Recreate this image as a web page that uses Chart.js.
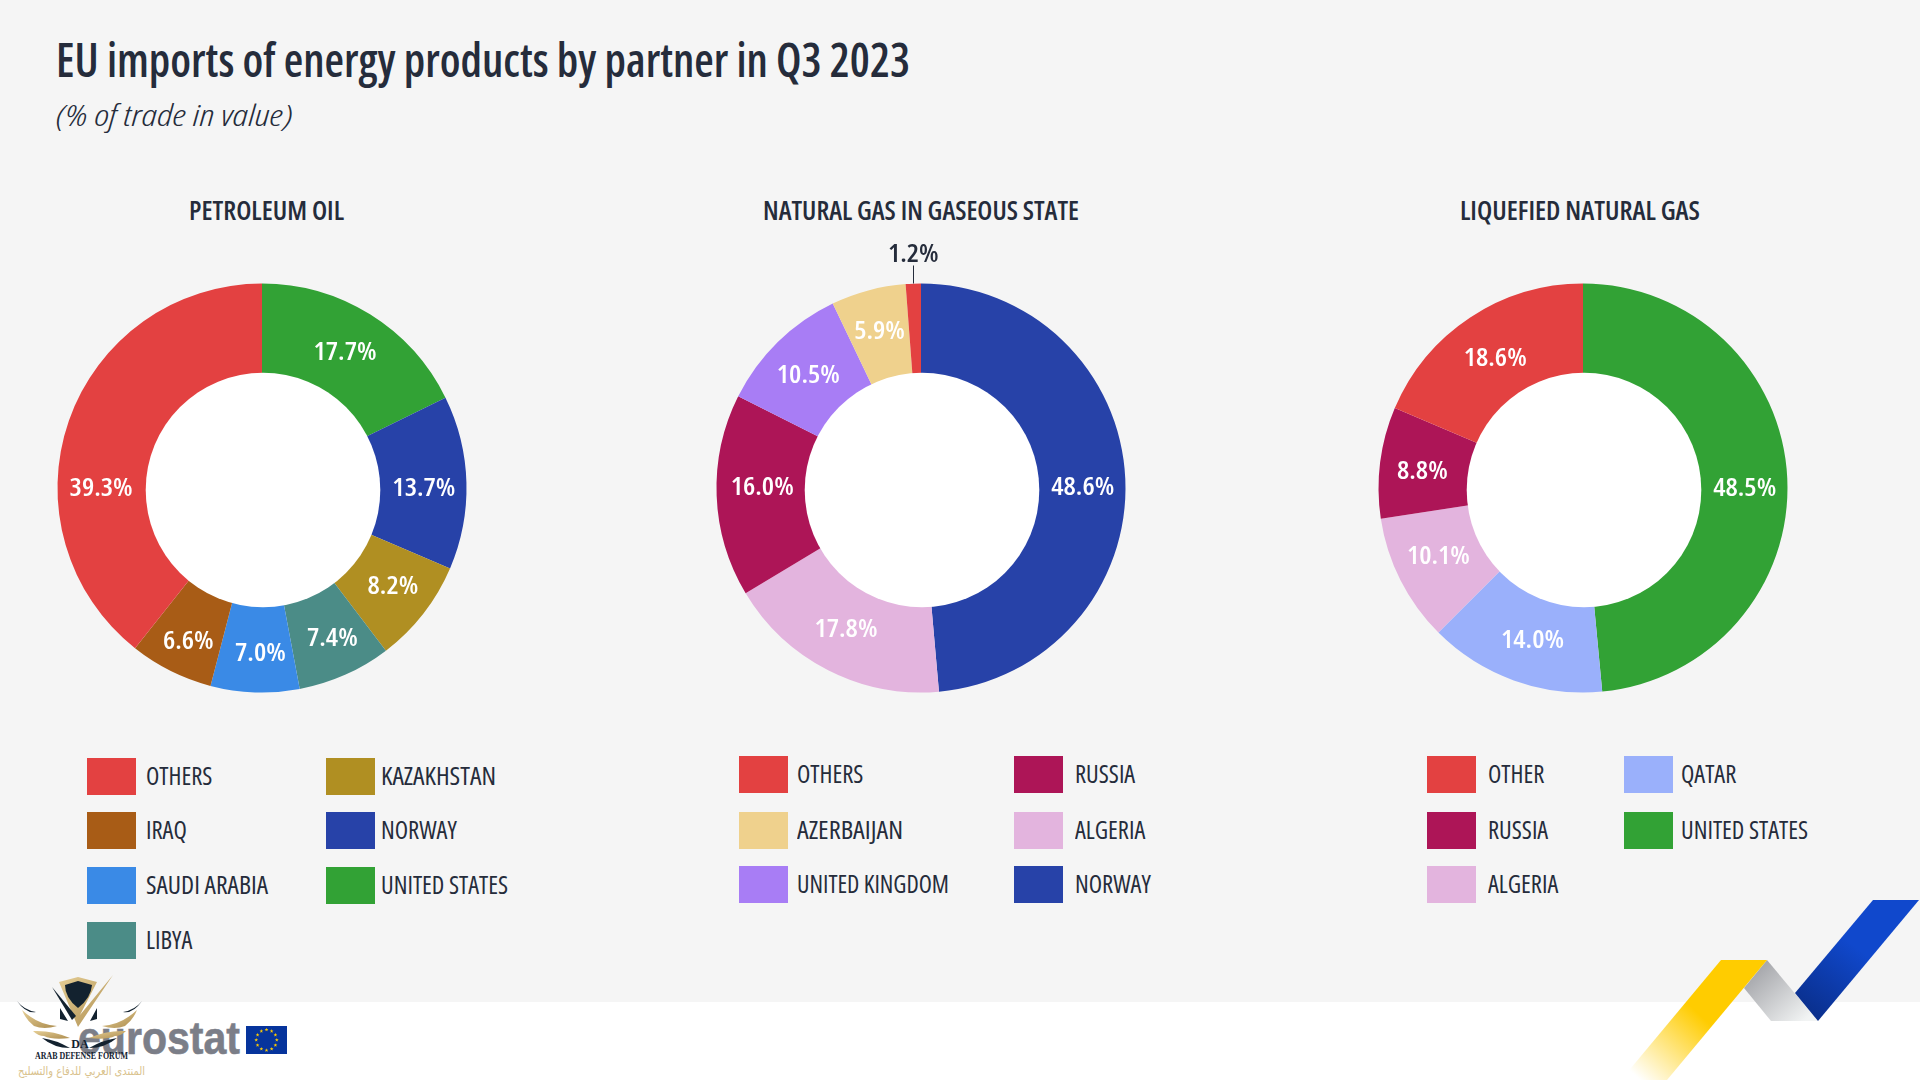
<!DOCTYPE html>
<html><head><meta charset="utf-8">
<script src="https://cdn.jsdelivr.net/npm/chart.js@4/dist/chart.umd.min.js"></script>
<style>
html,body{margin:0;padding:0;background:#fff}
#page{position:relative;width:1920px;height:1080px;overflow:hidden;background:#fff;font-family:"Open Sans","Liberation Sans",sans-serif;font-stretch:75%;color:#252c3b}
#band{position:absolute;left:0;top:0;width:1920px;height:1002px;background:#f5f5f5}
#page canvas{position:absolute}
.t{position:absolute;white-space:nowrap;transform-origin:0 50%;line-height:1}
.sw{position:absolute;width:49px;height:37px}
svg{position:absolute;left:0;top:0}
</style></head><body><div id="page"><div id="band"></div>
<svg width="1920" height="1080" viewBox="0 0 1920 1080">
<defs>
<linearGradient id="gy" gradientUnits="userSpaceOnUse" x1="1700" y1="1015" x2="1640" y2="1080"><stop offset="0" stop-color="#ffcc00"/><stop offset="1" stop-color="#ffffff"/></linearGradient>
<linearGradient id="gg" gradientUnits="userSpaceOnUse" x1="1745" y1="965" x2="1800" y2="1025"><stop offset="0" stop-color="#9a9ba0"/><stop offset="1" stop-color="#f2f4f4"/></linearGradient>
<linearGradient id="gb" gradientUnits="userSpaceOnUse" x1="1860" y1="950" x2="1810" y2="1015"><stop offset="0" stop-color="#1048cc"/><stop offset="1" stop-color="#0a2f8c"/></linearGradient>
<linearGradient id="gold" x1="0" y1="0" x2="1" y2="1"><stop offset="0" stop-color="#e6cf96"/><stop offset="1" stop-color="#ad8d4f"/></linearGradient>
</defs>
<polygon fill="url(#gg)" points="1767,960 1818,1021 1771,1021 1744,988"/>
<polygon fill="url(#gb)" points="1873,900 1919,900 1818,1021 1795,993"/>
<polygon fill="url(#gy)" points="1721,960 1767,960 1667,1080 1621,1080"/>
<text x="78" y="1054" font-family="Liberation Sans" font-stretch="100%" font-weight="700" font-size="46" fill="#7b7e88" stroke="#7b7e88" stroke-width="0.6" textLength="162" lengthAdjust="spacingAndGlyphs">eurostat</text>
<rect x="246" y="1026" width="41" height="28" fill="#06349c"/>
<g id="stars" fill="#ffcc00"></g>
<g>
<path d="M113 975 L88 1012 L78 1027 L59 982 L78 977 L97 982 L80 1015Z" fill="url(#gold)"/>
<path d="M78 981 L92 985 Q91 998 78 1008 Q65 998 65 985Z" fill="#13222f"/>
<path d="M52 987 L76 1016 L72 1020Z" fill="#13222f"/>
<path d="M60 1008 L68 1021 L60 1019Z M97 1008 L90 1021 L97 1019Z" fill="#13222f"/>
<path d="M17 1001 Q24 1010 36 1012 Q26 1014 17 1001Z" fill="#13222f"/>
<path d="M142 1001 Q135 1010 123 1012 Q133 1014 142 1001Z" fill="#13222f"/>
<path d="M22 1010 Q38 1025 57 1026 Q44 1030 34 1026 Q26 1020 22 1010Z" fill="url(#gold)"/>
<path d="M137 1010 Q121 1025 102 1026 Q115 1030 125 1026 Q133 1020 137 1010Z" fill="url(#gold)"/>
<path d="M33 1031 Q52 1030 70 1038 Q52 1040 44 1036 Q38 1036 33 1031Z" fill="url(#gold)"/>
<path d="M126 1031 Q107 1030 89 1038 Q107 1040 115 1036 Q121 1036 126 1031Z" fill="url(#gold)"/>
<path d="M42 1038 Q56 1040 70 1048 Q54 1048 42 1038Z" fill="#13222f"/>
<path d="M117 1038 Q103 1040 89 1048 Q105 1048 117 1038Z" fill="#13222f"/>
<text x="80" y="1048" text-anchor="middle" font-family="Liberation Serif" font-stretch="100%" font-weight="700" font-size="12" fill="#13222f">DA</text>
<text x="35" y="1059" font-family="Liberation Serif" font-stretch="100%" font-weight="700" font-size="10" fill="#13222f" textLength="93" lengthAdjust="spacingAndGlyphs">ARAB DEFENSE FORUM</text>
<text x="81.5" y="1075" text-anchor="middle" font-family="DejaVu Sans" font-stretch="100%" font-size="12" fill="#d9c28d" direction="rtl" textLength="127" lengthAdjust="spacingAndGlyphs">المنتدى العربي للدفاع والتسليح</text>
</g>
</svg>
</div>
<script>
const pageTitle = "EU imports of energy products by partner in Q3 2023";
const pageSubtitle = "(% of trade in value)";

const oilTitle = "PETROLEUM OIL";
const oilPartners = ["OTHERS","IRAQ","SAUDI ARABIA","LIBYA","KAZAKHSTAN","NORWAY","UNITED STATES"];
const oilValues = [39.3,6.6,7.0,7.4,8.2,13.7,17.7];
const oilColors = ["#e34141","#a85c16","#3a8ae6","#4b8c87","#b08f22","#2742a8","#32a235"];

const gasTitle = "NATURAL GAS IN GASEOUS STATE";
const gasPartners = ["OTHERS","AZERBAIJAN","UNITED KINGDOM","RUSSIA","ALGERIA","NORWAY"];
const gasValues = [1.2,5.9,10.5,16.0,17.8,48.6];
const gasColors = ["#e34141","#efd18d","#a87df5","#ad1557","#e3b4de","#2742a8"];

const lngTitle = "LIQUEFIED NATURAL GAS";
const lngPartners = ["OTHER","RUSSIA","ALGERIA","QATAR","UNITED STATES"];
const lngValues = [18.6,8.8,10.1,14.0,48.5];
const lngColors = ["#e34141","#ad1557","#e3b4de","#9ab0fb","#32a235"];

const page = document.getElementById('page');
const INK = '#252c3b';
const FONT = '"Open Sans","Liberation Sans",sans-serif';

function text(str,x,cy,size,weight,w,opts={}){
  const e=document.createElement('div');e.className='t';e.textContent=str;
  e.style.fontSize=size+'px';e.style.fontWeight=weight;
  if(opts.italic)e.style.fontStyle='italic';
  e.style.left=x+'px';e.style.top=(cy-size/2)+'px';
  page.appendChild(e);
  const nat=e.getBoundingClientRect().width;
  const s=w?w/nat:(opts.stretch||1);
  e.style.transform='scaleX('+s+')';
  if(opts.center)e.style.left=(x-nat*s/2)+'px';
  return e;
}
text(pageTitle,56,59,47,600,854);
text(pageSubtitle,56,114,29,350,237,{italic:true});
text(oilTitle,266,209,27,600,155,{center:true});
text(gasTitle,921,209,27,600,316,{center:true});
text(lngTitle,1580,209,27,600,240,{center:true});

(function(){const g=document.getElementById('stars');const NS='http://www.w3.org/2000/svg';
for(let i=0;i<12;i++){const a=i*Math.PI/6,cx=266.5+10.3*Math.cos(a),cy=1040+10.3*Math.sin(a);
  let pts=[];for(let k=0;k<10;k++){const r=k%2?0.8:2,b=-Math.PI/2+k*Math.PI/5;pts.push((cx+r*Math.cos(b)).toFixed(2)+','+(cy+r*Math.sin(b)).toFixed(2));}
  const p=document.createElementNS(NS,'polygon');p.setAttribute('points',pts.join(' '));g.appendChild(p);}})();

const HOLE_RADIUS=117.3;
const labelPlugin={id:'sliceLabels',afterDatasetsDraw(chart,args,o){
  const ctx=chart.ctx,meta=chart.getDatasetMeta(0),ds=chart.data.datasets[0];
  const c0=meta.data[0].getProps(['x','y'],true);
  ctx.save();ctx.fillStyle='#ffffff';ctx.beginPath();
  ctx.arc(c0.x+1,c0.y+2,HOLE_RADIUS,0,Math.PI*2);ctx.fill();ctx.restore();
  meta.data.forEach((arc,i)=>{
    const v=ds.data[i],p=arc.getProps(['x','y','startAngle','endAngle','outerRadius'],true);
    let mid=(p.startAngle+p.endAngle)/2;
    if(o.turn&&o.turn[i]!==undefined)mid=o.turn[i];
    const out=o.outside&&o.outside.includes(i);
    const r=out?p.outerRadius+29:(HOLE_RADIUS+p.outerRadius)/2;
    const n=(o.nudge&&o.nudge[i])||[0,0];
    const x=p.x+Math.cos(mid)*r+n[0],y=p.y+Math.sin(mid)*r+n[1];
    ctx.save();
    if(out){
      const lx=Math.round(p.x+Math.cos(mid)*p.outerRadius)+.5;
      ctx.strokeStyle=INK;ctx.lineWidth=1;ctx.beginPath();
      ctx.moveTo(lx,p.y-p.outerRadius);ctx.lineTo(lx,p.y-p.outerRadius-18);ctx.stroke();
    }
    ctx.font='600 condensed 26px '+FONT;ctx.textAlign='center';ctx.textBaseline='middle';
    const k=63/ctx.measureText('39.3%').width;
    ctx.translate(out?p.x+Math.cos(mid)*p.outerRadius+n[0]:x,y);
    ctx.fillStyle=out?INK:'#ffffff';
    ctx.scale(k,1);
    ctx.fillText(v.toFixed(1)+'%',0,0);
    ctx.restore();
  });
}};

function donut(cx,cy,partners,values,colors,opts){
  const size=500,c=document.createElement('canvas');
  c.width=size;c.height=size;c.style.left=(cx-size/2)+'px';c.style.top=(cy-size/2)+'px';
  c.style.width=size+'px';c.style.height=size+'px';
  page.appendChild(c);
  new Chart(c,{type:'doughnut',
    data:{labels:partners.slice().reverse(),datasets:[{data:values.slice().reverse(),
      backgroundColor:colors.slice().reverse(),borderWidth:0,radius:204.5}]},
    options:{responsive:false,animation:false,cutout:'50%',layout:{padding:0},
      plugins:{legend:{display:false},tooltip:{enabled:false},title:{display:false},
        sliceLabels:opts}},
    plugins:[labelPlugin]});
}
// label offsets follow the clockwise slice order; the largest petroleum slice carries its label at nine o'clock
donut(262,488,oilPartners,oilValues,oilColors,{turn:{6:Math.PI},
  nudge:[[-2,1],[1,5],[4,0],[5,4],[4,5],[-2,10],[0,1]]});
donut(921,488,gasPartners,gasValues,gasColors,{outside:[5],
  nudge:[[1,7],[-2,-2],[2,-6],[0,2],[0,-1],[0,0]]});
donut(1583,488,lngPartners,lngValues,lngColors,{
  nudge:[[1,8],[4,1],[-1,-4],[-1,4],[1,5]]});

// one horizontal squeeze for legend text, set by the width of "UNITED STATES"
const probe=text("UNITED STATES",0,-100,26,400,0);
const legendStretch=127/probe.getBoundingClientRect().width;
probe.remove();
const legendWidths={"KAZAKHSTAN":115,"SAUDI ARABIA":122,"AZERBAIJAN":106,"UNITED KINGDOM":152};
function legend(partners,colors,rows,cols){
  partners.forEach((p,i)=>{
    const col=cols[i][0],row=rows[cols[i][1]];
    const s=document.createElement('div');s.className='sw';s.style.background=colors[i];
    s.style.left=col[0]+'px';s.style.top=(row-18.5)+'px';page.appendChild(s);
    text(p,col[1],row-1,26,400,legendWidths[p]||0,{stretch:legendStretch});
  });
}
const oilC=[87,146],oilD=[326,381],oilR=[776,830,885,940];
legend(oilPartners,oilColors,oilR,[[oilC,0],[oilC,1],[oilC,2],[oilC,3],[oilD,0],[oilD,1],[oilD,2]]);
const gasC=[739,797],gasD=[1014,1075],sixR=[774,830,884];
legend(gasPartners,gasColors,sixR,[[gasC,0],[gasC,1],[gasC,2],[gasD,0],[gasD,1],[gasD,2]]);
const lngC=[1427,1488],lngD=[1624,1681];
legend(lngPartners,lngColors,sixR,[[lngC,0],[lngC,1],[lngC,2],[lngD,0],[lngD,1]]);
</script></body></html>
